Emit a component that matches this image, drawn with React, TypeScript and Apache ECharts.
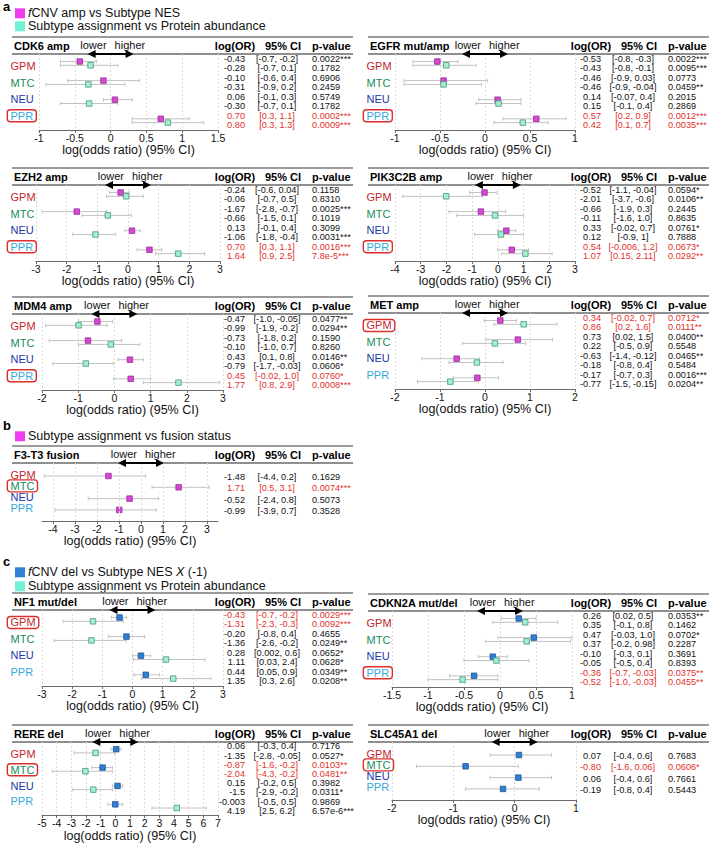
import React, { useEffect, useRef } from 'react';
import * as echarts from 'echarts';

const FONT = "'Liberation Sans', Arial, Helvetica, sans-serif";
const AXIS_TITLE = 'log(odds ratio) (95% CI)';
const groups = ['GPM', 'MTC', 'NEU', 'PPR'];
const groupColors = ['#c3262c', '#1a8b58', '#2435a8', '#37a8dc'];
const RED = '#e2302b';

// ---------- a: CDK6 amp ----------
const cdk6Est = [-0.43, -0.28, -0.10, -0.31, 0.06, -0.30, 0.70, 0.80];
const cdk6Lo = [-0.7, -0.7, -0.6, -0.9, -0.1, -0.7, 0.3, 0.3];
const cdk6Hi = [-0.2, 0.1, 0.4, 0.2, 0.3, 0.1, 1.1, 1.3];
const cdk6Table = [
  ['-0.43', '[-0.7, -0.2]', '0.0022***'], ['-0.28', '[-0.7, 0.1]', '0.1782'],
  ['-0.10', '[-0.6, 0.4]', '0.6906'], ['-0.31', '[-0.9, 0.2]', '0.2459'],
  ['0.06', '[-0.1, 0.3]', '0.5749'], ['-0.30', '[-0.7, 0.1]', '0.1782'],
  ['0.70', '[0.3, 1.1]', '0.0002***'], ['0.80', '[0.3, 1.3]', '0.0009***'],
];
// ---------- a: EGFR mut/amp ----------
const egfrEst = [-0.53, -0.43, -0.46, -0.46, 0.14, 0.15, 0.57, 0.42];
const egfrLo = [-0.8, -0.8, -0.9, -0.9, -0.07, -0.1, 0.2, 0.1];
const egfrHi = [-0.3, -0.1, 0.03, -0.04, 0.4, 0.4, 0.9, 0.7];
const egfrTable = [
  ['-0.53', '[-0.8, -0.3]', '0.0022***'], ['-0.43', '[-0.8, -0.1]', '0.0095***'],
  ['-0.46', '[-0.9, 0.03]', '0.0773'], ['-0.46', '[-0.9, -0.04]', '0.0459**'],
  ['0.14', '[-0.07, 0.4]', '0.2015'], ['0.15', '[-0.1, 0.4]', '0.2869'],
  ['0.57', '[0.2, 0.9]', '0.0012***'], ['0.42', '[0.1, 0.7]', '0.0035***'],
];
// ---------- a: EZH2 amp ----------
const ezh2Est = [-0.24, -0.06, -1.67, -0.66, 0.13, -1.06, 0.70, 1.64];
const ezh2Lo = [-0.6, -0.7, -2.8, -1.5, -0.1, -1.8, 0.3, 0.9];
const ezh2Hi = [0.04, 0.5, -0.7, 0.1, 0.4, -0.4, 1.1, 2.5];
const ezh2Table = [
  ['-0.24', '[-0.6, 0.04]', '0.1158'], ['-0.06', '[-0.7, 0.5]', '0.8310'],
  ['-1.67', '[-2.8, -0.7]', '0.0025***'], ['-0.66', '[-1.5, 0.1]', '0.1019'],
  ['0.13', '[-0.1, 0.4]', '0.3099'], ['-1.06', '[-1.8, -0.4]', '0.0031***'],
  ['0.70', '[0.3, 1.1]', '0.0016***'], ['1.64', '[0.9, 2.5]', '7.8e-5***'],
];
// ---------- a: PIK3C2B amp ----------
const pikEst = [-0.52, -2.01, -0.66, -0.11, 0.33, 0.12, 0.54, 1.07];
const pikLo = [-1.1, -3.7, -1.9, -1.6, -0.02, -0.9, -0.006, 0.15];
const pikHi = [-0.04, -0.6, 0.3, 1.0, 0.7, 1, 1.2, 2.11];
const pikTable = [
  ['-0.52', '[-1.1, -0.04]', '0.0594*'], ['-2.01', '[-3.7, -0.6]', '0.0106**'],
  ['-0.66', '[-1.9, 0.3]', '0.2445'], ['-0.11', '[-1.6, 1.0]', '0.8635'],
  ['0.33', '[-0.02, 0.7]', '0.0761*'], ['0.12', '[-0.9, 1]', '0.7888'],
  ['0.54', '[-0.006, 1.2]', '0.0673*'], ['1.07', '[0.15, 2.11]', '0.0292**'],
];
// ---------- a: MDM4 amp ----------
const mdm4Est = [-0.47, -0.99, -0.73, -0.10, 0.43, -0.79, 0.45, 1.77];
const mdm4Lo = [-1.0, -1.9, -1.8, -1.0, 0.1, -1.7, -0.02, 0.8];
const mdm4Hi = [-0.05, -0.2, 0.2, 0.7, 0.8, -0.03, 1.0, 2.9];
const mdm4Table = [
  ['-0.47', '[-1.0, -0.05]', '0.0477**'], ['-0.99', '[-1.9, -0.2]', '0.0294**'],
  ['-0.73', '[-1.8, 0.2]', '0.1590'], ['-0.10', '[-1.0, 0.7]', '0.8260'],
  ['0.43', '[0.1, 0.8]', '0.0146**'], ['-0.79', '[-1.7, -0.03]', '0.0606*'],
  ['0.45', '[-0.02, 1.0]', '0.0760*'], ['1.77', '[0.8, 2.9]', '0.0008***'],
];
// ---------- a: MET amp ----------
const metEst = [0.34, 0.86, 0.73, 0.22, -0.63, -0.18, -0.17, -0.77];
const metLo = [-0.02, 0.2, 0.02, -0.5, -1.4, -0.8, -0.7, -1.5];
const metHi = [0.7, 1.6, 1.5, 0.9, -0.12, 0.4, 0.3, -0.15];
const metTable = [
  ['0.34', '[-0.02, 0.7]', '0.0712*'], ['0.86', '[0.2, 1.6]', '0.0111**'],
  ['0.73', '[0.02, 1.5]', '0.0400**'], ['0.22', '[-0.5, 0.9]', '0.5548'],
  ['-0.63', '[-1.4, -0.12]', '0.0465**'], ['-0.18', '[-0.8, 0.4]', '0.5484'],
  ['-0.17', '[-0.7, 0.3]', '0.0016***'], ['-0.77', '[-1.5, -0.15]', '0.0204**'],
];
// ---------- b: F3-T3 fusion ----------
const f3Est = [-1.48, 1.71, -0.52, -0.99];
const f3Lo = [-4.4, 0.5, -2.4, -3.9];
const f3Hi = [0.2, 3.1, 0.8, 0.7];
const f3Table = [
  ['-1.48', '[-4.4, 0.2]', '0.1629'], ['1.71', '[0.5, 3.1]', '0.0074***'],
  ['-0.52', '[-2.4, 0.8]', '0.5073'], ['-0.99', '[-3.9, 0.7]', '0.3528'],
];
const f3Ticks = [-4, -3, -2, -1, 0, 1, 2, 3];
// ---------- c: NF1 mut/del ----------
const nf1Est = [-0.43, -1.31, -0.20, -1.36, 0.28, 1.11, 0.44, 1.35];
const nf1Lo = [-0.7, -2.3, -0.8, -2.6, 0.002, 0.03, 0.05, 0.3];
const nf1Hi = [-0.2, -0.3, 0.4, -0.2, 0.6, 2.4, 0.9, 2.6];
const nf1Table = [
  ['-0.43', '[-0.7, -0.2]', '0.0029***'], ['-1.31', '[-2.3, -0.3]', '0.0092***'],
  ['-0.20', '[-0.8, 0.4]', '0.4655'], ['-1.36', '[-2.6, -0.2]', '0.0249**'],
  ['0.28', '[0.002, 0.6]', '0.0652*'], ['1.11', '[0.03, 2.4]', '0.0628*'],
  ['0.44', '[0.05, 0.9]', '0.0349**'], ['1.35', '[0.3, 2.6]', '0.0208**'],
];
// ---------- c: CDKN2A mut/del ----------
const cdkn2aEst = [0.26, 0.35, 0.47, 0.37, -0.10, -0.05, -0.36, -0.52];
const cdkn2aLo = [0.02, -0.1, -0.03, -0.2, -0.3, -0.5, -0.7, -1.0];
const cdkn2aHi = [0.5, 0.8, 1.0, 0.98, 0.1, 0.4, -0.03, -0.03];
const cdkn2aTable = [
  ['0.26', '[0.02, 0.5]', '0.0353**'], ['0.35', '[-0.1, 0.8]', '0.1462'],
  ['0.47', '[-0.03, 1.0]', '0.0702*'], ['0.37', '[-0.2, 0.98]', '0.2287'],
  ['-0.10', '[-0.3, 0.1]', '0.3691'], ['-0.05', '[-0.5, 0.4]', '0.8393'],
  ['-0.36', '[-0.7, -0.03]', '0.0375**'], ['-0.52', '[-1.0, -0.03]', '0.0455**'],
];
// ---------- c: RERE del ----------
const rereEst = [0.06, -1.35, -0.87, -2.04, 0.15, -1.5, -0.003, 4.19];
const rereLo = [-0.3, -2.8, -1.6, -4.3, -0.2, -2.9, -0.5, 2.5];
const rereHi = [0.4, -0.05, -0.2, -0.2, 0.5, -0.2, 0.5, 6.2];
const rereTable = [
  ['0.06', '[-0.3, 0.4]', '0.7176'], ['-1.35', '[-2.8, -0.05]', '0.0527*'],
  ['-0.87', '[-1.6, -0.2]', '0.0103**'], ['-2.04', '[-4.3, -0.2]', '0.0481**'],
  ['0.15', '[-0.2, 0.5]', '0.3982'], ['-1.5', '[-2.9, -0.2]', '0.0311*'],
  ['-0.003', '[-0.5, 0.5]', '0.9869'], ['4.19', '[2.5, 6.2]', '6.57e-6***'],
];
// ---------- c: SLC45A1 del ----------
const slcEst = [0.07, -0.80, 0.06, -0.19];
const slcLo = [-0.4, -1.6, -0.4, -0.8];
const slcHi = [0.6, 0.06, 0.6, 0.4];
const slcTable = [
  ['0.07', '[-0.4, 0.6]', '0.7683'], ['-0.80', '[-1.6, 0.06]', '0.0606*'],
  ['0.06', '[-0.4, 0.6]', '0.7661'], ['-0.19', '[-0.8, 0.4]', '0.5443'],
];

const SUB: any = {
  mag: { fill: '#d449d4', border: '#9a2a9a', legend: '#f03cf0' },
  cyan: { fill: '#a8ecd2', border: '#3f9c78', legend: '#72f2d4' },
  blue: { fill: '#2f7fd2', border: '#1b5496', legend: '#2f80d8' },
};

const panels: any[] = [
  { title: 'CDK6 amp', base: 0, top: 37, min: -1, max: 1.5, interval: 0.5, x0: 39, x1: 218, subs: ['mag', 'cyan'], red: 3, est: cdk6Est, lo: cdk6Lo, hi: cdk6Hi, tbl: cdk6Table },
  { title: 'EGFR mut/amp', base: 356, top: 37, min: -1, max: 1, interval: 0.5, x0: 395, x1: 575, subs: ['mag', 'cyan'], red: 3, est: egfrEst, lo: egfrLo, hi: egfrHi, tbl: egfrTable },
  { title: 'EZH2 amp', base: 0, top: 168, min: -3, max: 3, interval: 1, x0: 36, x1: 220, subs: ['mag', 'cyan'], red: 3, est: ezh2Est, lo: ezh2Lo, hi: ezh2Hi, tbl: ezh2Table },
  { title: 'PIK3C2B amp', base: 356, top: 168, min: -4, max: 3, interval: 1, x0: 395, x1: 575, subs: ['mag', 'cyan'], red: 3, est: pikEst, lo: pikLo, hi: pikHi, tbl: pikTable },
  { title: 'MDM4 amp', base: 0, top: 297, min: -2, max: 3, interval: 1, x0: 42, x1: 223, subs: ['mag', 'cyan'], red: 3, est: mdm4Est, lo: mdm4Lo, hi: mdm4Hi, tbl: mdm4Table },
  { title: 'MET amp', base: 356, top: 296, min: -2, max: 2, interval: 1, x0: 395, x1: 575, subs: ['mag', 'cyan'], red: 0, est: metEst, lo: metLo, hi: metHi, tbl: metTable },
  { title: 'F3-T3 fusion', base: 0, top: 446, min: -4.5, max: 3.5, ticks: f3Ticks, x0: 42, x1: 218, single: true, subs: ['mag'], red: 1, est: f3Est, lo: f3Lo, hi: f3Hi, tbl: f3Table },
  { title: 'NF1 mut/del', base: 0, top: 593, min: -3, max: 3, interval: 1, x0: 42, x1: 223, subs: ['blue', 'cyan'], red: 0, est: nf1Est, lo: nf1Lo, hi: nf1Hi, tbl: nf1Table },
  { title: 'CDKN2A mut/del', base: 356, top: 594, min: -1.5, max: 1, interval: 0.5, x0: 392, x1: 572, subs: ['blue', 'cyan'], red: 3, est: cdkn2aEst, lo: cdkn2aLo, hi: cdkn2aHi, tbl: cdkn2aTable },
  { title: 'RERE del', base: 0, top: 725, min: -5, max: 7, interval: 1, x0: 42, x1: 218, subs: ['blue', 'cyan'], red: 1, est: rereEst, lo: rereLo, hi: rereHi, tbl: rereTable },
  { title: 'SLC45A1 del', base: 356, top: 725, min: -2, max: 1, interval: 1, x0: 392, x1: 576, single: true, subs: ['blue'], red: 1, est: slcEst, lo: slcLo, hi: slcHi, tbl: slcTable },
];

let measureCtx: any = null;
function textWidth(t: string, size: number) {
  if (!measureCtx) measureCtx = document.createElement('canvas').getContext('2d');
  measureCtx.font = `${size}px ${FONT}`;
  return measureCtx.measureText(t).width;
}

function txt(text: string, x: number, y: number, size: number, fill: string, align: string, extra: any = {}) {
  return {
    type: 'text', x, y,
    style: {
      text, fill, fontSize: size, fontFamily: FONT,
      align, textAlign: align, verticalAlign: 'middle', textVerticalAlign: 'middle',
      ...extra,
    },
  };
}

function buildOption() {
  const grid: any[] = [];
  const xAxis: any[] = [];
  const yAxis: any[] = [];
  const series: any[] = [];
  const graphic: any[] = [];

  // section letters and legends
  graphic.push(txt('a', 3, 6.5, 13, '#000', 'left', { fontWeight: 'bold' }));
  graphic.push(txt('b', 3, 425.5, 13, '#000', 'left', { fontWeight: 'bold' }));
  graphic.push(txt('c', 3, 561, 13, '#000', 'left', { fontWeight: 'bold' }));
  const rich = { i: { fontStyle: 'italic', fontSize: 12.5, fontFamily: FONT, fill: '#111' } };
  const legends = [
    { y: 13.3, color: SUB.mag.legend, text: '{i|f}CNV amp vs Subtype NES' },
    { y: 26.3, color: SUB.cyan.legend, text: 'Subtype assignment vs Protein abundance' },
    { y: 436.3, color: SUB.mag.legend, text: 'Subtype assignment vs fusion status' },
    { y: 572.3, color: SUB.blue.legend, text: '{i|f}CNV del vs Subtype NES {i|X} (-1)' },
    { y: 586.3, color: SUB.cyan.legend, text: 'Subtype assignment vs Protein abundance' },
  ];
  legends.forEach((l) => {
    graphic.push({ type: 'rect', shape: { x: 15, y: l.y - 5, width: 10, height: 10 }, style: { fill: l.color } });
    graphic.push(txt(l.text, 28, l.y, 12.5, '#111', 'left', { rich }));
  });

  panels.forEach((p: any, i: number) => {
    const single = !!p.single;
    const yMin = single ? -1.15 : -0.3927;
    const yMax = single ? 3.98 : 3.5864;
    const gh = single ? 58 : 76;
    const T = p.top;
    const base = p.base;
    grid.push({ left: p.x0, top: T + 17, width: p.x1 - p.x0, height: gh });
    const ticks = p.ticks;
    xAxis.push({
      gridIndex: i, type: 'value', min: p.min, max: p.max,
      ...(ticks ? {} : { interval: p.interval }),
      axisLine: { show: true, onZero: false, lineStyle: { color: '#6a6a6a', width: 1 } },
      axisTick: { show: true, length: 3, lineStyle: { color: '#6a6a6a' }, ...(ticks ? { customValues: ticks } : {}) },
      axisLabel: { margin: 2, fontSize: 10.5, color: '#111', fontFamily: FONT, ...(ticks ? { customValues: ticks } : {}) },
      splitLine: { show: !ticks, lineStyle: { color: '#dcdcdc', type: [2, 2], width: 1 } },
      name: AXIS_TITLE, nameLocation: 'middle', nameGap: 11,
      nameTextStyle: { fontSize: 12.5, color: '#111', fontFamily: FONT },
    });
    yAxis.push({ gridIndex: i, type: 'value', min: yMin, max: yMax, inverse: true, show: false });

    const n = p.est.length;
    const yPt = (k: number) => (single ? k : Math.floor(k / 2) + 0.2 * (k % 2));
    const yTx = (k: number) => (single ? k + 0.09 : Math.floor(k / 2) - 0.15 + 0.5 * (k % 2));
    const yLab = (g: number) => (single ? g - 0.13 : 0.26 + 0.86 * g);

    if (ticks) {
      series.push({
        type: 'scatter', xAxisIndex: i, yAxisIndex: i, data: [], silent: true, z: 1,
        markLine: {
          silent: true, symbol: ['none', 'none'], label: { show: false }, animation: false,
          lineStyle: { color: '#dcdcdc', type: [2, 2], width: 1 },
          data: ticks.map((v: number) => ({ xAxis: v })),
        },
      });
    }

    // error bars
    series.push({
      type: 'custom', xAxisIndex: i, yAxisIndex: i, silent: true, z: 2,
      data: p.est.map((_: number, k: number) => [p.lo[k], p.hi[k], yPt(k)]),
      encode: { x: [0, 1], y: 2 },
      renderItem: (params: any, api: any) => {
        const y = api.value(2);
        const a = api.coord([api.value(0), y]);
        const b = api.coord([api.value(1), y]);
        const st = { stroke: '#c2c2c2', lineWidth: 1 };
        return {
          type: 'group',
          children: [
            { type: 'line', shape: { x1: a[0], y1: a[1], x2: b[0], y2: b[1] }, style: st },
            { type: 'line', shape: { x1: a[0], y1: a[1] - 1.8, x2: a[0], y2: a[1] + 1.8 }, style: st },
            { type: 'line', shape: { x1: b[0], y1: b[1] - 1.8, x2: b[0], y2: b[1] + 1.8 }, style: st },
          ],
        };
      },
    });

    // point estimates
    p.subs.forEach((sk: string, s: number) => {
      const st = SUB[sk];
      const step = p.subs.length;
      const data: any[] = [];
      for (let k = s; k < n; k += step) data.push([p.est[k], yPt(k)]);
      series.push({
        type: 'scatter', xAxisIndex: i, yAxisIndex: i, silent: true, z: 3,
        symbol: 'rect', symbolSize: 5.5, data,
        itemStyle: { color: st.fill, borderColor: st.border, borderWidth: 0.8, opacity: 1 },
      });
    });

    // table text
    series.push({
      type: 'custom', xAxisIndex: i, yAxisIndex: i, silent: true, z: 4,
      data: p.est.map((_: number, k: number) => [p.min, yTx(k), k]),
      encode: { x: 0, y: 1 },
      renderItem: (params: any, api: any) => {
        const k = api.value(2);
        const c = api.coord([p.min, api.value(1)]);
        const g = single ? k : Math.floor(k / 2);
        const col = g === p.red ? RED : '#111';
        const row = p.tbl[k];
        return {
          type: 'group',
          children: [
            txt(row[0], base + 245, c[1], 9.2, col, 'right'),
            txt(row[1], base + 277, c[1], 9.2, col, 'center'),
            txt(row[2], base + 312, c[1], 9.2, col, 'left'),
          ],
        };
      },
    });

    // group labels
    series.push({
      type: 'custom', xAxisIndex: i, yAxisIndex: i, silent: true, z: 4,
      data: groups.map((_, g) => [p.min, yLab(g), g]),
      encode: { x: 0, y: 1 },
      renderItem: (params: any, api: any) => {
        const g = api.value(2);
        const c = api.coord([p.min, api.value(1)]);
        const lx = base + 10.5;
        const children: any[] = [txt(groups[g], lx, c[1], 11, groupColors[g], 'left')];
        if (g === p.red) {
          const w = textWidth(groups[g], 11);
          children.push({
            type: 'rect',
            shape: { x: lx - 3.2, y: c[1] - 6, width: w + 6.4, height: 12, r: 3 },
            style: { fill: 'none', stroke: '#d9302c', lineWidth: 1.4 },
          });
        }
        return { type: 'group', children };
      },
    });

    // arrow with lower / higher, centred at 0
    series.push({
      type: 'custom', xAxisIndex: i, yAxisIndex: i, silent: true, z: 5,
      data: [[0, yMin]],
      encode: { x: 0, y: 1 },
      renderItem: (params: any, api: any) => {
        const c = api.coord([api.value(0), api.value(1)]);
        const x0 = c[0];
        const y0 = c[1];
        return {
          type: 'group',
          children: [
            { type: 'line', shape: { x1: x0 - 17, y1: y0, x2: x0 + 17, y2: y0 }, style: { stroke: '#000', lineWidth: 2 } },
            { type: 'polygon', shape: { points: [[x0 - 23, y0], [x0 - 15, y0 - 4], [x0 - 15, y0 + 4]] }, style: { fill: '#000' } },
            { type: 'polygon', shape: { points: [[x0 + 23, y0], [x0 + 15, y0 - 4], [x0 + 15, y0 + 4]] }, style: { fill: '#000' } },
            txt('lower', x0 - 4, y0 - 9, 11, '#111', 'right'),
            txt('higher', x0 + 4, y0 - 9, 11, '#111', 'left'),
          ],
        };
      },
    });

    // header row and rules
    graphic.push({ type: 'line', shape: { x1: base + 12, y1: T, x2: base + 353, y2: T }, style: { stroke: '#7a7a7a', lineWidth: 1.5 } });
    graphic.push({ type: 'line', shape: { x1: base + 12, y1: T + 17, x2: base + 353, y2: T + 17 }, style: { stroke: '#6a6a6a', lineWidth: 1.5 } });
    graphic.push(txt(p.title, base + 14, T + 9, 11, '#000', 'left', { fontWeight: 'bold' }));
    graphic.push(txt('log(OR)', base + 235, T + 9, 11, '#000', 'center', { fontWeight: 'bold' }));
    graphic.push(txt('95% CI', base + 283, T + 9, 11, '#000', 'center', { fontWeight: 'bold' }));
    graphic.push(txt('p-value', base + 312, T + 9, 11, '#000', 'left', { fontWeight: 'bold' }));
  });

  return {
    animation: false,
    backgroundColor: '#ffffff',
    textStyle: { fontFamily: FONT },
    grid, xAxis, yAxis, series, graphic,
  };
}

export default function App() {
  const ref = useRef<HTMLDivElement>(null);
  useEffect(() => {
    if (!ref.current) return;
    const chart = echarts.init(ref.current, undefined, { renderer: 'svg' });
    chart.setOption(buildOption() as any);
    return () => chart.dispose();
  }, []);
  return (
    <div
      ref={ref}
      style={{ position: 'absolute', left: 0, top: 0, width: 712, height: 843, background: '#fff' }}
    />
  );
}
